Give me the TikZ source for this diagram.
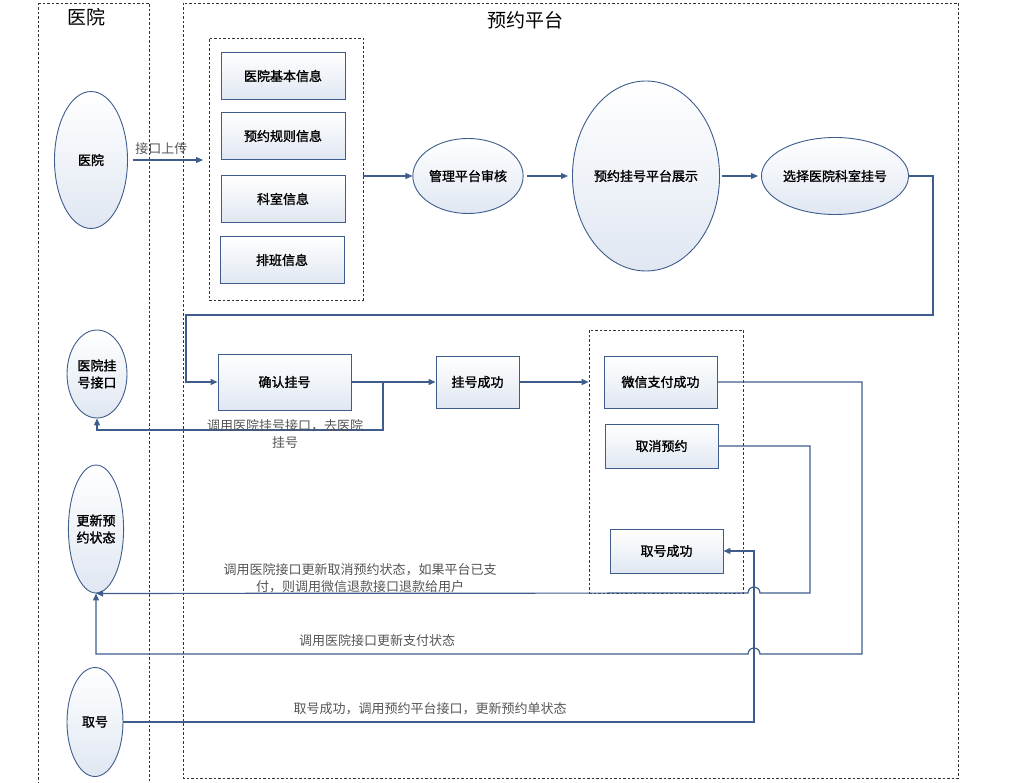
\documentclass[tikz,border=0pt]{standalone}
\usepackage{fontspec}
\setmainfont[AutoFakeBold=1.5]{Noto Sans CJK SC}
\usetikzlibrary{shapes.geometric,arrows.meta}
\definecolor{edgeblue}{RGB}{62,93,140}
\definecolor{fillbot}{RGB}{224,231,242}
\definecolor{notegray}{RGB}{85,85,85}
\begin{document}
\begin{tikzpicture}[x=1pt, y=-1pt,
    box/.style={draw=edgeblue, line width=0.9pt, top color=white, bottom color=fillbot,
        font=\bfseries\fontsize{13}{17}\selectfont, inner sep=0pt},
    oval/.style={ellipse, draw=edgeblue, line width=0.9pt, top color=white, bottom color=fillbot,
        font=\bfseries\fontsize{13}{17}\selectfont, align=center, inner sep=0pt},
    lane/.style={draw=black!80, line width=0.6pt, dash pattern=on 2.5pt off 2pt},
    link/.style={draw=edgeblue, line width=1.2pt, -{Triangle[length=7pt,width=6pt]}},
    note/.style={text=notegray, font=\fontsize{13}{17}\selectfont, align=center},
    lanetitle/.style={font=\fontsize{19}{22}\selectfont}]
    \useasboundingbox (0,0) rectangle (1025,783);

    % Lanes
    \draw[lane] (38,3) rectangle (149,800);
    \draw[lane] (183,3) rectangle (958,778);
    \node[lanetitle] (hospTitle) at (86,17) {医院};
    \node[lanetitle] (platTitle) at (525,20) {预约平台};

    % Hospital side
    \node[oval, minimum width=73pt, minimum height=137pt] (hosp) at (91,160) {医院};
    \node[oval, minimum width=60pt, minimum height=88pt] (iface) at (97,374) {医院挂\\号接口};
    \node[oval, minimum width=55pt, minimum height=128pt] (state) at (96,529) {更新预\\约状态};
    \node[oval, minimum width=56pt, minimum height=109pt] (take) at (95,722) {取号};

    % Uploaded information
    \node[lane, minimum width=154pt, minimum height=262pt] (info) at (286,169) {};
    \node[box, minimum width=124pt, minimum height=47pt] (basic) at (283,76) {医院基本信息};
    \node[box, minimum width=124pt, minimum height=47pt] (rule) at (283,136) {预约规则信息};
    \node[box, minimum width=124pt, minimum height=47pt] (dept) at (283,199) {科室信息};
    \node[box, minimum width=124pt, minimum height=47pt] (sched) at (282,260) {排班信息};

    % Platform flow
    \node[oval, minimum width=110pt, minimum height=75pt] (audit) at (468,176) {管理平台审核};
    \node[oval, minimum width=133pt, minimum height=190pt] (show) at (646,176) {预约挂号平台展示};
    \node[oval, minimum width=134pt, minimum height=77pt] (sel) at (835,176) {选择医院科室挂号};
    \node[box, minimum width=133pt, minimum height=56pt] (confirm) at (284.5,382) {确认挂号};
    \node[box, minimum width=83pt, minimum height=52pt] (okreg) at (477.5,382) {挂号成功};

    % Payment and cancel
    \node[lane, minimum width=154pt, minimum height=263pt] (payGrp) at (666,461.5) {};
    \node[box, minimum width=113pt, minimum height=52pt] (pay) at (660.5,382) {微信支付成功};
    \node[box, minimum width=113pt, minimum height=44pt] (cancel) at (661.5,446) {取消预约};
    \node[box, minimum width=113pt, minimum height=44pt] (takeok) at (666.5,551) {取号成功};

    % Turning points
    \coordinate (upEnd) at (203,160);
    \coordinate (loopR) at (933,315);
    \coordinate (loopL) at (186,315);
    \coordinate (branch) at (383,382);
    \coordinate (payR) at (862,654);
    \coordinate (jumpA) at (760,654);
    \coordinate (cancelR) at (810,593);
    \coordinate (jumpB) at (760,593);
    \coordinate (takeR) at (754,551);

    % Connectors
    \draw[link, shorten <=5pt] (hosp.east) -- (upEnd)
        node[note, midway, above=1pt, xshift=-4pt] {接口上传};
    \draw[link] (info.east |- audit.west) -- (audit.west);
    \draw[link, shorten <=3pt, shorten >=4pt] (audit.east) -- (show.west);
    \draw[link, shorten <=2pt, shorten >=3pt] (show.east) -- (sel.west);
    \draw[link] (sel.east) -| (loopR) -- (loopL) |- (confirm.west);
    \draw[link] (confirm.east) -- (okreg.west);
    \draw[link] (branch) -- ++(0,48) -| (iface.south);
    \draw[link] (okreg.east) -- (okreg.east -| payGrp.west);
    \draw[link] (pay.east) -| (payR) -- (jumpA)
        arc[start angle=0, end angle=180, radius=6pt] -| (state.south);
    \draw[link] (cancel.east) -| (cancelR) -- (jumpB)
        arc[start angle=0, end angle=180, radius=6pt] -- (state.south);
    \draw[link] (take.east) -| (takeR) -- (takeok.east);

    % Connector notes
    \node[note] (ifaceNote) at (285,434) {调用医院挂号接口，去医院\\挂号};
    \node[note] (cancelNote) at (360,578) {调用医院接口更新取消预约状态，如果平台已支\\付，则调用微信退款接口退款给用户};
    \node[note] (payNote) at (377,641) {调用医院接口更新支付状态};
    \node[note] (takeNote) at (430,709) {取号成功，调用预约平台接口，更新预约单状态};

\end{tikzpicture}
\end{document}
